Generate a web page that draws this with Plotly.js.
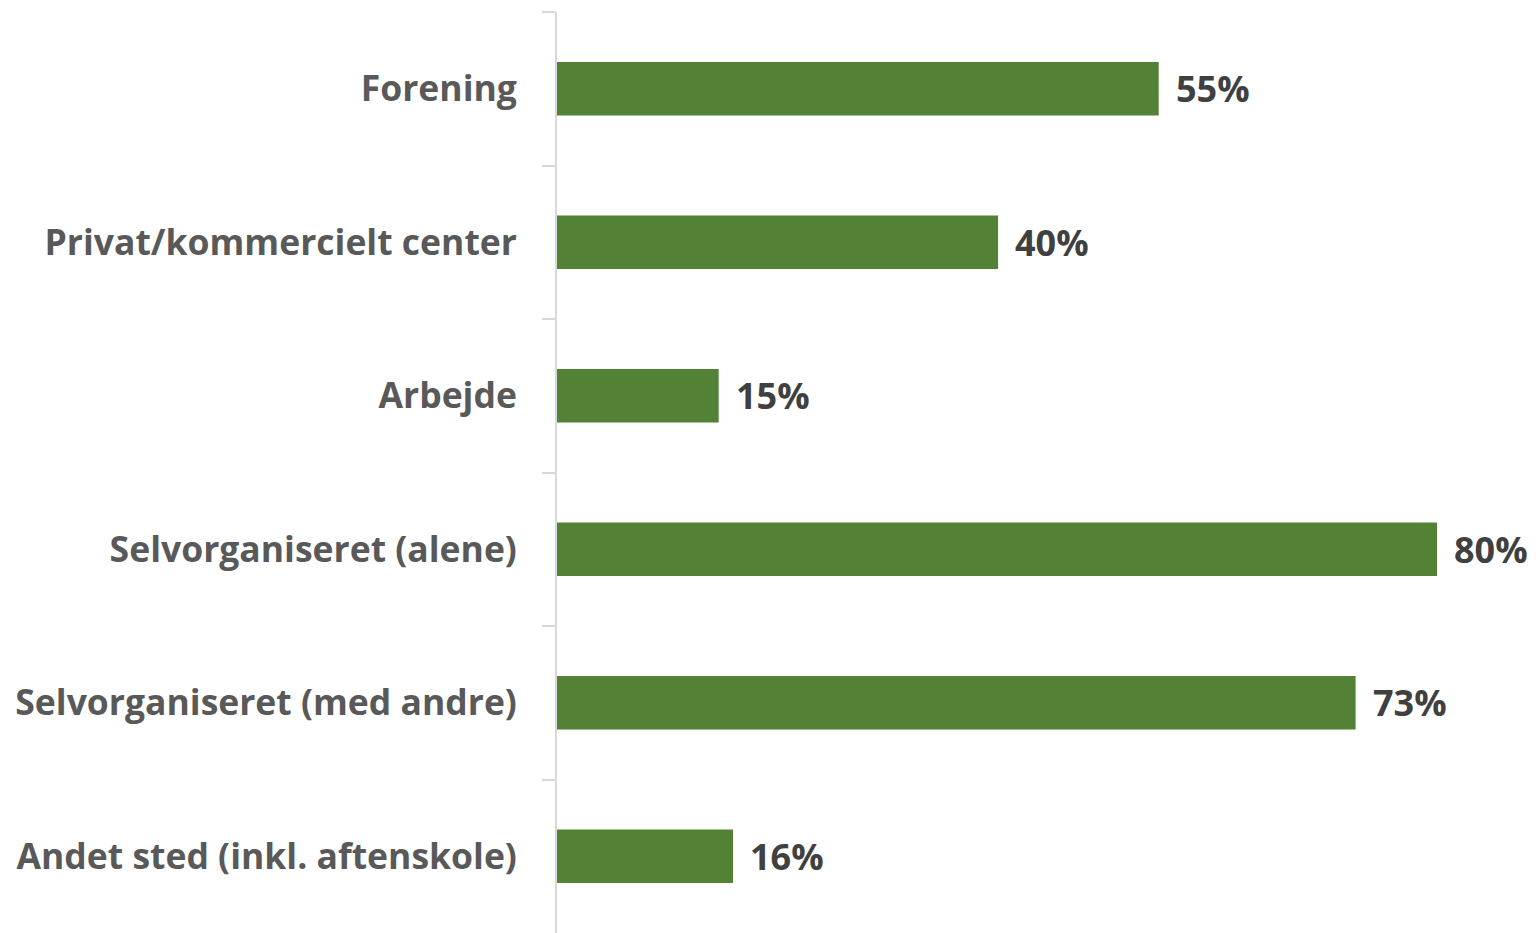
<!DOCTYPE html>
<html>
<head>
<meta charset="utf-8">
<script src="https://cdn.plot.ly/plotly-3.0.1.min.js"></script>
<style>html,body{margin:0;padding:0;background:#fff;}#chart{width:1536px;height:933px;}</style>
</head>
<body>
<div id="chart"></div>
<script>
const categories = ["Forening", "Privat/kommercielt center", "Arbejde", "Selvorganiseret (alene)", "Selvorganiseret (med andre)", "Andet sted (inkl. aftenskole)"];
const values = [54.7, 40.1, 14.7, 80.0, 72.6, 16.0];

const FONT = "Open Sans";

const trace = {
  type: "bar",
  orientation: "h",
  y: categories,
  x: values,
  marker: {color: "#538135"},
  hoverinfo: "none"
};

const annotations = categories.map((c, i) => ({
  x: values[i], y: c, xref: "x", yref: "y",
  text: Math.round(values[i]) + "%",
  showarrow: false, xanchor: "left", yanchor: "middle",
  xshift: 15, yshift: 0,
  font: {family: FONT, size: 36, color: "#404040", weight: 700}
}));

const layout = {
  width: 1536, height: 933,
  margin: {l: 557, r: 11, t: 12, b: 0, pad: 0},
  paper_bgcolor: "#fff", plot_bgcolor: "#fff",
  showlegend: false,
  bargap: 0.65,
  annotations: annotations,
  xaxis: {range: [0, 88], visible: false, fixedrange: true},
  yaxis: {
    autorange: "reversed",
    showline: true, linecolor: "#d9d9d9", linewidth: 2,
    ticks: "outside", tickson: "boundaries", ticklen: 13, tickcolor: "#d9d9d9", tickwidth: 2,
    showgrid: false, zeroline: false,
    ticklabelstandoff: 31,
    tickfont: {family: FONT, size: 35.5, color: "#595959", weight: 700}
  }
};

Plotly.newPlot("chart", [trace], layout, {displayModeBar: false, staticPlot: true});
</script>
</body>
</html>
